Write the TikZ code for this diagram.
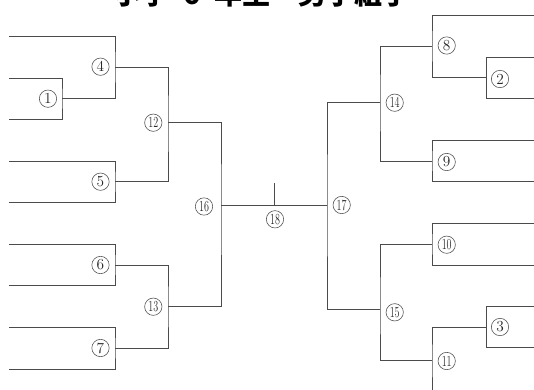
\documentclass[tikz,border=0pt]{standalone}
\usepackage{graphicx}
\usepackage{fontspec}
\newfontfamily\titlefont{Noto Sans CJK JP}
\usepackage{tikz}
\definecolor{brline}{RGB}{75,75,75}
\definecolor{numgray}{RGB}{85,85,85}
\tikzset{
  bracket/.style={draw=brline, line width=0.65pt},
  circnum/.style={circle, draw=numgray, line width=0.45pt, minimum size=13pt, inner sep=0pt, font=\fontsize{11.5}{11.5}\selectfont, text=black!85},
}
\newcommand{\twodig}[1]{\scalebox{0.66}[1]{#1}}

\begin{document}
\begin{tikzpicture}[x=0.75pt, y=-0.75pt]
  \useasboundingbox (0,0) rectangle (534,389);
  \clip (0,0) rectangle (534,389);
  % Title (cut at the top)
  \node[anchor=base, inner sep=0pt, font=\titlefont\fontsize{21}{21}\selectfont\bfseries] (title) at (262,4.5) {小学\hspace{0.5em}6\hspace{0.5em}年生\hspace{1em}男子組手};
  % Match points
  \coordinate (m1) at (62,98.5);
  \coordinate (m4) at (115,67);
  \coordinate (m5) at (115,181.5);
  \coordinate (m6) at (115,265);
  \coordinate (m7) at (115,348);
  \coordinate (m12) at (168,122.7);
  \coordinate (m13) at (168,306.7);
  \coordinate (m16) at (221,205);
  \coordinate (m18) at (274,205);
  \coordinate (t18) at (274,182.7);
  \coordinate (m17) at (327,205);
  \coordinate (m14) at (380,102);
  \coordinate (m15) at (380,309);
  \coordinate (m8) at (432,46);
  \coordinate (m9) at (432,161);
  \coordinate (m10) at (432,244);
  \coordinate (m11) at (432,360.7);
  \coordinate (m2) at (486,77.5);
  \coordinate (m3) at (486,327.2);
  % Left half
  \draw[bracket] (9,78) -| (m1) |- (9,119);
  \draw[bracket] (9,36) -| (m4) |- (m1);
  \draw[bracket] (9,161) -| (m5) |- (9,202);
  \draw[bracket] (m4) -| (m12) |- (m5);
  \draw[bracket] (9,244) -| (m6) |- (9,285.7);
  \draw[bracket] (9,327.3) -| (m7) |- (9,369);
  \draw[bracket] (m6) -| (m13) |- (m7);
  \draw[bracket] (m12) -| (m16) |- (m13);
  % Final
  \draw[bracket] (m16) -- (m17);
  \draw[bracket] (m18) -- (t18);
  % Right half
  \draw[bracket] (539,57.3) -| (m2) |- (539,98.3);
  \draw[bracket] (539,15) -| (m8) |- (m2);
  \draw[bracket] (539,140.7) -| (m9) |- (539,181.7);
  \draw[bracket] (m8) -| (m14) |- (m9);
  \draw[bracket] (539,223.3) -| (m10) |- (539,265);
  \draw[bracket] (539,306.7) -| (m3) |- (539,347.7);
  \draw[bracket] (m3) -| (m11) |- (539,394);
  \draw[bracket] (m10) -| (m15) |- (m11);
  \draw[bracket] (m14) -| (m17) |- (m15);
  % Match numbers
  \node[circnum] (n1) at (48,98.7) {1};
  \node[circnum] (n4) at (100.5,66.7) {4};
  \node[circnum] (n5) at (100.5,181.7) {5};
  \node[circnum] (n6) at (100.5,265) {6};
  \node[circnum] (n7) at (100.5,348) {7};
  \node[circnum] (n12) at (153.3,122.7) {\twodig{12}};
  \node[circnum] (n13) at (153.3,306.7) {\twodig{13}};
  \node[circnum] (n16) at (204,206.5) {\twodig{16}};
  \node[circnum] (n18) at (275,219.3) {\twodig{18}};
  \node[circnum] (n17) at (341.7,205) {\twodig{17}};
  \node[circnum] (n14) at (394.7,102.7) {\twodig{14}};
  \node[circnum] (n15) at (394.7,312.3) {\twodig{15}};
  \node[circnum] (n8) at (446.7,45.5) {8};
  \node[circnum] (n2) at (500,79) {2};
  \node[circnum] (n9) at (446.7,162) {9};
  \node[circnum] (n10) at (446.7,244.7) {\twodig{10}};
  \node[circnum] (n3) at (500,327) {3};
  \node[circnum] (n11) at (446.7,361) {\twodig{11}};
\end{tikzpicture}
\end{document}
